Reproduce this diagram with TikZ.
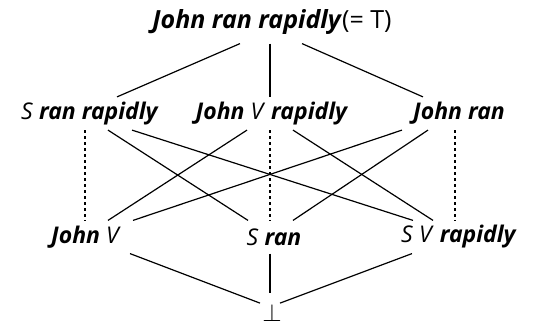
\documentclass[tikz,border=0pt]{standalone}
\usepackage{fontspec}
\setmainfont{Open Sans}
\usepackage{tikz}

\newcommand{\bi}[1]{\textbf{\textit{#1}}}

\begin{document}
\begin{tikzpicture}[x=1pt, y=1pt, line width=1.2pt,
    term/.style={inner sep=0pt, minimum height=32pt, font=\fontsize{23}{26}\selectfont},
    gap/.style={dash pattern=on 3pt off 3pt}]
    \useasboundingbox (0,0) rectangle (544,322);
    % top
    \node[term, minimum height=42pt, font=\fontsize{25}{28}\selectfont] (jrr) at (272,300) {\bi{John ran rapidly}(= T)};
    % middle row
    \node[term] (srr) at (90,208.5) {\textit{S} \bi{ran rapidly}};
    \node[term] (jvr) at (272,208.5) {\bi{John} \textit{V} \bi{rapidly}};
    \node[term] (jr) at (459,208.5) {\bi{John ran}};
    % bottom row
    \node[term] (jv) at (86,85) {\bi{John} \textit{V}};
    \node[term] (sr) at (274,85) {\textit{S} \bi{ran}};
    \node[term] (svr) at (459,85) {\textit{S} \textit{V} \bi{rapidly}};
    \node[inner sep=0pt, anchor=base, font=\fontsize{24}{26}\selectfont] (bot) at (272,1) {$\bot$};
    % top to middle
    \foreach \a/\da/\b/\db in {jrr/-32/srr/27, jrr/-2/jvr/-2, jrr/30/jr/-36}
        \draw ([xshift=\da pt]\a.south) -- ([xshift=\db pt]\b.north);
    % middle to bottom
    \foreach \a/\da/\b/\db in {srr/18/sr/-26, srr/42/svr/-46, jvr/-25/jv/22,
                               jvr/21/svr/-26, jr/-57/jv/47, jr/-31/sr/19}
        \draw ([xshift=\da pt]\a.south) -- ([xshift=\db pt]\b.north);
    \foreach \a/\da/\b/\db in {srr/-5/jv/-1, jvr/-2/sr/-4, jr/-4/svr/-4}
        \draw[gap] ([xshift=\da pt]\a.south) -- ([xshift=\db pt]\b.north);
    % bottom to bot
    \draw ([xshift=44pt]jv.south) -- ([xshift=-12pt]bot.north);
    \draw ([xshift=-4pt]sr.south) -- ([xshift=-2pt, yshift=10pt]bot.north);
    \draw ([xshift=-47pt]svr.south) -- ([xshift=8pt]bot.north);
\end{tikzpicture}
\end{document}
